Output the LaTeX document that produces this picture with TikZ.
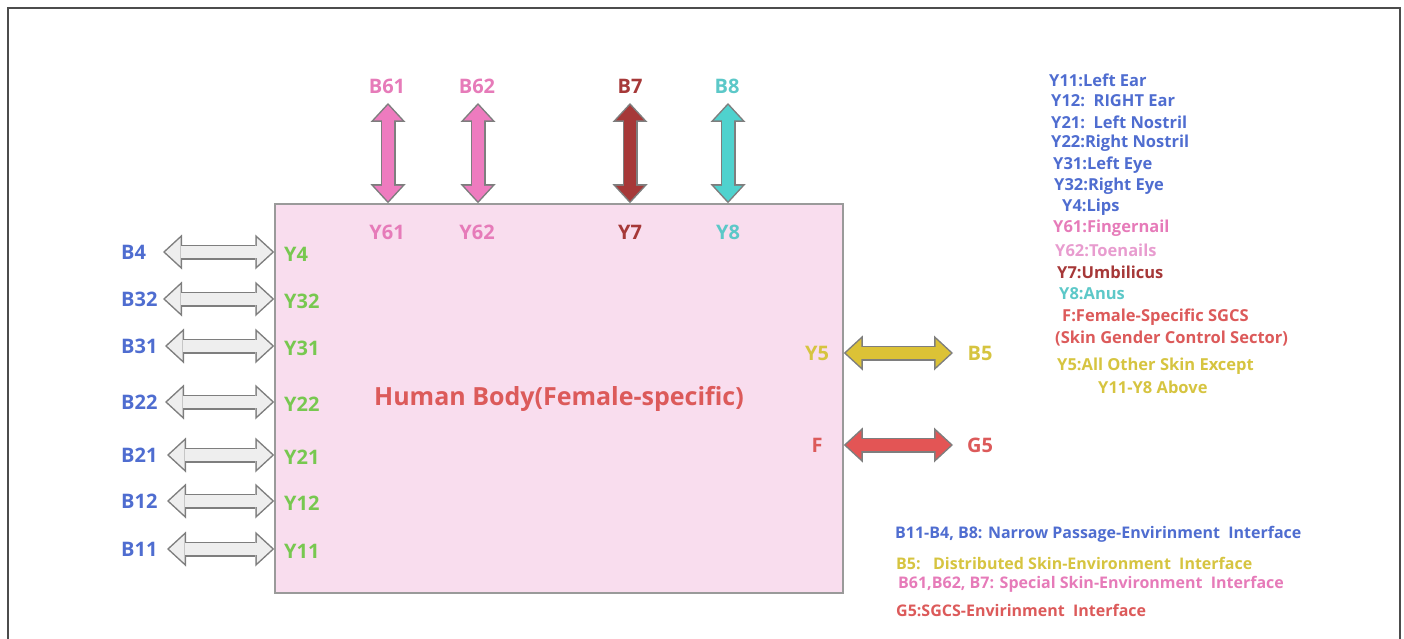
\documentclass[tikz,border=0pt]{standalone}
\usepackage{fontspec}
\setmainfont{Open Sans}
\usetikzlibrary{arrows.meta}

\definecolor{bodyfill}{HTML}{F9DDEE}
\definecolor{bodyline}{HTML}{9A9A9A}
\definecolor{outl}{HTML}{7E7E7E}
\definecolor{greyarr}{HTML}{EEEEEE}
\definecolor{bluetxt}{HTML}{4F6DD0}
\definecolor{greentxt}{HTML}{78C850}
\definecolor{pinkarr}{HTML}{EE7BBF}
\definecolor{pinktxt}{HTML}{E67BB9}
\definecolor{pinklite}{HTML}{E89CCF}
\definecolor{darkred}{HTML}{A63838}
\definecolor{cyanarr}{HTML}{4FD2CE}
\definecolor{cyantxt}{HTML}{5CC8C8}
\definecolor{yelarr}{HTML}{DCC236}
\definecolor{yeltxt}{HTML}{D6C440}
\definecolor{redarr}{HTML}{E35555}
\definecolor{redtxt}{HTML}{DC5A5A}

\tikzstyle{body}=[draw=bodyline,fill=bodyfill,line width=1.5pt,minimum width=568pt,minimum height=389pt,inner sep=0pt]
\tikzstyle{lab}=[inner sep=0pt,font=\fontsize{20}{20}\selectfont\bfseries]
\tikzstyle{key}=[inner sep=0pt,anchor=west,font=\fontsize{16.5}{16.5}\selectfont\bfseries]
\tikzstyle{note}=[inner sep=0pt,anchor=west,font=\fontsize{16}{16}\selectfont\bfseries]
\tikzset{fat/.style={draw=#1,line width=12pt,shorten <=2.2pt,shorten >=2.2pt,
    arrows={Triangle[length=15.3pt,width=28.2pt,line width=0pt]-Triangle[length=15.3pt,width=28.2pt,line width=0pt]},
    preaction={draw=outl,line width=15pt,shorten <=0pt,shorten >=0pt,
      arrows={Triangle[length=19pt,width=35pt,line width=0pt]-Triangle[length=19pt,width=35pt,line width=0pt]}}}}

\begin{document}
\begin{tikzpicture}[x=1pt,y=-1pt]
\useasboundingbox (0,0) rectangle (1404,639);
\draw[black!70,line width=1.5pt] (8,639) -- (8,8) -- (1400,8) -- (1400,639);

% body
\node[body,text=redtxt,font=\fontsize{25}{25}\selectfont\bfseries] (body) at (559,398.5) {Human Body(Female-specific)};

% top interfaces
\coordinate (t61) at (388,103);
\coordinate (t62) at (478,103);
\coordinate (t7) at (630,103);
\coordinate (t8) at (728,103);
\draw[fat=pinkarr] (t61) -- (t61 |- body.north);
\draw[fat=pinkarr] (t62) -- (t62 |- body.north);
\draw[fat=darkred] (t7) -- (t7 |- body.north);
\draw[fat=cyanarr] (t8) -- (t8 |- body.north);
\node[lab,text=pinktxt] (b61) at (387,86) {B61};
\node[lab,text=pinktxt] (b62) at (477,86) {B62};
\node[lab,text=darkred] (b7) at (630,86) {B7};
\node[lab,text=cyantxt] (b8) at (727,86) {B8};
\node[lab,text=pinktxt] (y61) at (387,232) {Y61};
\node[lab,text=pinktxt] (y62) at (477,232) {Y62};
\node[lab,text=darkred] (y7) at (630,232) {Y7};
\node[lab,text=cyantxt] (y8) at (728,232) {Y8};

% left interfaces
\foreach \nm/\yy/\ax in {4/252/163,32/299/163,31/346/165,22/402/165,21/455/167,12/501/167,11/549/167}{
  \coordinate (l\nm) at (\ax,\yy);
  \draw[fat=greyarr] (l\nm) -- (l\nm -| body.west);
  \node[lab,anchor=west,text=bluetxt] (bl\nm) at (121,\yy) {B\nm};
  \node[lab,anchor=west,text=greentxt] (yl\nm) at (284,\yy+2) {Y\nm};
}

% right interfaces
\coordinate (r5) at (953,353);
\coordinate (rf) at (953,445);
\draw[fat=yelarr] (r5 -| body.east) -- (r5);
\draw[fat=redarr] (rf -| body.east) -- (rf);
\node[lab,text=yeltxt] (y5) at (817,353) {Y5};
\node[lab,text=yeltxt] (b5) at (980,353) {B5};
\node[lab,text=redtxt] (yf) at (817,445) {F};
\node[lab,text=redtxt] (g5) at (980,445) {G5};

% key
\node[key,text=bluetxt] (k1) at (1049,80) {Y11:Left Ear};
\node[key,text=bluetxt] (k2) at (1051,101) {Y12:\ \ RIGHT Ear};
\node[key,text=bluetxt] (k3) at (1051,122) {Y21:\ \ Left Nostril};
\node[key,text=bluetxt] (k4) at (1051,143) {Y22:Right Nostril};
\node[key,text=bluetxt] (k5) at (1053,165) {Y31:Left Eye};
\node[key,text=bluetxt] (k6) at (1054,186) {Y32:Right Eye};
\node[key,text=bluetxt] (k7) at (1062,207) {Y4:Lips};
\node[key,text=pinktxt] (k8) at (1053,228) {Y61:Fingernail};
\node[key,text=pinklite] (k9) at (1055,250) {Y62:Toenails};
\node[key,text=darkred] (k10) at (1057,272) {Y7:Umbilicus};
\node[key,text=cyantxt] (k11) at (1059,294) {Y8:Anus};
\node[key,text=redtxt] (k12) at (1062,317) {F:Female-Specific SGCS};
\node[key,text=redtxt] (k13) at (1055,339) {(Skin Gender Control Sector)};
\node[key,text=yeltxt] (k14) at (1057,366) {Y5:All Other Skin Except};
\node[key,text=yeltxt] (k15) at (1098,387) {Y11-Y8 Above};

\node[note,text=bluetxt] (n1) at (895,534) {B11-B4, B8: Narrow Passage-Envirinment\ \ Interface};
\node[note,text=yeltxt] (n2) at (896,563) {B5:\ \ \ Distributed Skin-Environment\ \ Interface};
\node[note,text=pinktxt] (n3) at (898,584) {B61,B62, B7: Special Skin-Environment\ \ Interface};
\node[note,text=redtxt] (n4) at (896,610) {G5:SGCS-Envirinment\ \ Interface};
\end{tikzpicture}
\end{document}
